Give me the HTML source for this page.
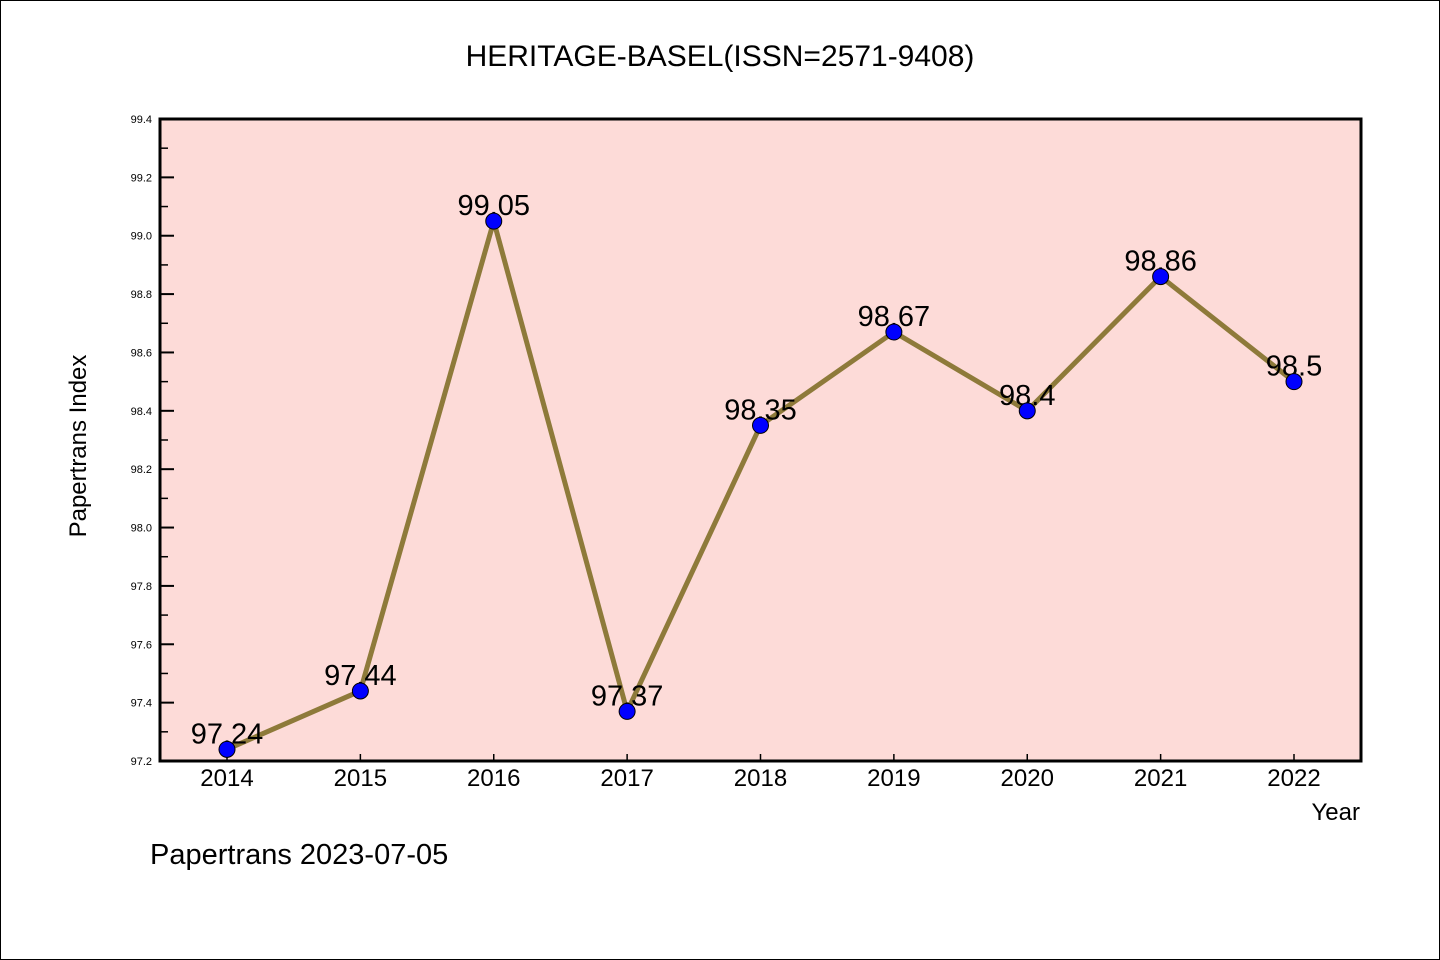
<!DOCTYPE html>
<html><head><meta charset="utf-8"><style>
body{margin:0;background:#fff;}
svg{display:block;font-family:"Liberation Sans","DejaVu Sans",sans-serif;}
</style></head><body>
<svg id="chart" width="1440" height="960" viewBox="0 0 1440 960">
<rect x="0.5" y="0.5" width="1439" height="959" fill="#fff" stroke="#000"/>
<text x="720" y="66" text-anchor="middle" font-size="30">HERITAGE-BASEL(ISSN=2571-9408)</text>
<rect x="160" y="119" width="1201" height="642" fill="#fddbd8"/>
<g id="axes"></g>
<g id="marks"></g>
<rect x="160" y="119" width="1201" height="642" fill="none" stroke="#000" stroke-width="3"/>
<text x="86" y="446" text-anchor="middle" font-size="24" transform="rotate(-90 86 446)">Papertrans Index</text>
<text x="1360" y="820" text-anchor="end" font-size="24">Year</text>
<text x="150" y="864" font-size="29">Papertrans 2023-07-05</text>
</svg>
<script>
const years=[2014,2015,2016,2017,2018,2019,2020,2021,2022];
const values=[97.24,97.44,99.05,97.37,98.35,98.67,98.4,98.86,98.5];
const labels=["97.24","97.44","99.05","97.37","98.35","98.67","98.4","98.86","98.5"];
const yTicks=[97.2,97.4,97.6,97.8,98.0,98.2,98.4,98.6,98.8,99.0,99.2,99.4];
const NS="http://www.w3.org/2000/svg";
const x=v=>227+(v-2014)*(1294-227)/8;
const y=v=>761-(v-97.2)/2.2*642;
function mk(tag,at,parent,txt){const e=document.createElementNS(NS,tag);for(const k in at)e.setAttribute(k,at[k]);if(txt!=null)e.textContent=txt;parent.appendChild(e);return e;}
const ax=document.getElementById('axes'),mg=document.getElementById('marks');
yTicks.forEach((t,i)=>{
 const yy=y(t);
 const l=mk('line',{x1:160,x2:174,y1:yy,y2:yy,stroke:'#000','stroke-width':2},ax);
 
 
 const tx=mk('text',{x:152,y:yy+4,'text-anchor':'end','font-size':11},ax,t.toFixed(1));
 
 
 if(i<yTicks.length-1){const ym=y(t+0.1);
  const m=mk('line',{x1:160,x2:168,y1:ym,y2:ym,stroke:'#000','stroke-width':1.5},ax);
  
  }
});
years.forEach(yr=>{
 const xx=x(yr);
 const l=mk('line',{x1:xx,x2:xx,y1:761,y2:754,stroke:'#000','stroke-width':1.5},ax);
 
 
 const tx=mk('text',{x:xx,y:786,'text-anchor':'middle','font-size':24},ax,String(yr));
 
 
});
const pts=years.map((yr,i)=>x(yr)+','+y(values[i])).join(' ');
const pl=mk('polyline',{points:pts,fill:'none',stroke:'#8e7a3a','stroke-width':5,'stroke-linejoin':'round'},mg);


years.forEach((yr,i)=>{
 const tx=mk('text',{x:x(yr),y:y(values[i])-6,'text-anchor':'middle','font-size':29},mg,labels[i]);
 
 
});
years.forEach((yr,i)=>{
 const c=mk('circle',{cx:x(yr),cy:y(values[i]),r:8,fill:'#0000ff',stroke:'#000','stroke-width':1},mg);
 
 
});
</script>
</body></html>
